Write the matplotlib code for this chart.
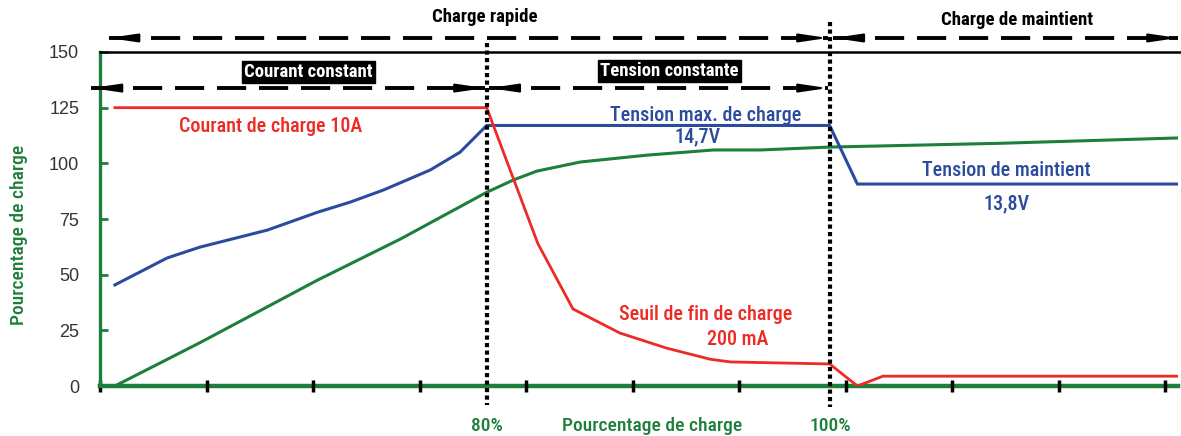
import matplotlib
matplotlib.use("Agg")
import matplotlib.pyplot as plt
import numpy as np

# ---------------- data (x in tick units, 0..10; y in chart units 0..150) ----------------
x_ticks = [0, 1, 2, 3, 4, 5, 6, 7, 8, 9, 10]
y_ticks = [0, 25, 50, 75, 100, 125, 150]

current_x = [0.14, 3.63, 4.11, 4.44, 4.88, 5.32, 5.73, 5.92, 6.85, 7.11, 7.35, 10.12]
current_y = [125, 125, 64, 34.6, 23.8, 17, 12, 10.8, 9.9, 0, 4.4, 4.4]

voltage_x = [0.14, 0.63, 0.94, 1.57, 2.04, 2.35, 2.66, 3.10, 3.38, 3.63, 6.85, 7.11, 10.12]
voltage_y = [45.4, 57.5, 62.4, 70, 78, 82.6, 88, 97, 105, 117, 117, 90.7, 90.7]

charge_x = [0.14, 0.94, 2.04, 2.82, 3.63, 3.88, 4.10, 4.51, 5.14, 5.76, 6.20, 6.85, 8.45, 10.12]
charge_y = [0, 19.5, 47.5, 66, 87, 92.5, 96.5, 100.6, 103.7, 106, 106, 107.3, 109, 111.4]

x80 = 3.634
x100 = 6.854
marker_labels = ["80%", "100%"]

RED = "#ee2a24"
BLUE = "#2b4c9e"
GREEN = "#1d7f3b"
NARROW = ["Roboto Condensed", "DejaVu Sans"]

fig = plt.figure(figsize=(11.81, 4.36), dpi=100)
ax = fig.add_axes([100 / 1181, 50 / 436, 1078 / 1181, 334 / 436])
ax.set_xlim(0, 10.12)
ax.set_ylim(0, 150)

for s in ["top", "right"]:
    ax.spines[s].set_visible(False)
ax.spines["left"].set_color(GREEN)
ax.spines["left"].set_linewidth(2.4)
ax.spines["bottom"].set_color(GREEN)
ax.spines["bottom"].set_linewidth(3.2)
ax.spines["bottom"].set_zorder(1)

ax.set_yticks(y_ticks)
ax.set_yticklabels([str(v) for v in y_ticks], fontsize=13, color="#333333",
                   family=["Liberation Sans", "DejaVu Sans"])
ax.tick_params(axis="y", direction="in", length=6, width=2, color=GREEN, pad=15)
ax.set_xticks(x_ticks)
ax.set_xticklabels([])
ax.tick_params(axis="x", direction="inout", length=9, width=2.5, color="black")

# top black frame line
ax.plot([0, 10.2], [150, 150], color="black", lw=1.8, clip_on=False, zorder=3)

# curves
ax.plot(charge_x, charge_y, color=GREEN, lw=2.2, zorder=4)
ax.plot(voltage_x, voltage_y, color=BLUE, lw=2.2, zorder=5)
ax.plot(current_x, current_y, color=RED, lw=2.0, zorder=6)

# vertical dotted lines
ax.plot([x80, x80], [154, -8.5], color="black", lw=3, ls=(0, (1, 0.8)), clip_on=False, zorder=7)
ax.plot([x100, x100], [163.5, -9.5], color="black", lw=3, ls=(0, (1, 0.8)), clip_on=False, zorder=7)


def dashed_arrow(x0, x1, y, left=True, right=True):
    ax.plot([x0, x1], [y, y], color="black", lw=2.8, dashes=(7.5, 3.3), clip_on=False, zorder=6)
    hl = 0.28
    style = "-|>,head_length=1.7,head_width=0.25"
    if left:
        ax.annotate("", xy=(x0, y), xytext=(x0 + hl, y), xycoords="data",
                    arrowprops=dict(arrowstyle=style, color="black", lw=1.5, shrinkA=0, shrinkB=0),
                    annotation_clip=False, zorder=8)
    if right:
        ax.annotate("", xy=(x1, y), xytext=(x1 - hl, y), xycoords="data",
                    arrowprops=dict(arrowstyle=style, color="black", lw=1.5, shrinkA=0, shrinkB=0),
                    annotation_clip=False, zorder=8)


dashed_arrow(0.08, x100 - 0.02, 156.3)
dashed_arrow(x100 + 0.03, 10.12, 156.3)
dashed_arrow(-0.08, x80 - 0.02, 133.8)
dashed_arrow(x80 + 0.02, x100 - 0.02, 133.8)

# headings
ax.text(3.61, 165.5, "Charge rapide", ha="center", va="center", fontsize=13.5,
        fontweight="bold", family=NARROW, color="black", clip_on=False)
ax.text(8.61, 164.5, "Charge de maintient", ha="center", va="center", fontsize=13.5,
        fontweight="bold", family=NARROW, color="black", clip_on=False)
box = dict(boxstyle="square,pad=0.12", fc="black", ec="black")
ax.text(1.953, 141, "Courant constant", ha="center", va="center", fontsize=13.5,
        fontweight="bold", family=NARROW, color="white", bbox=box, zorder=9)
ax.text(5.343, 141.4, "Tension constante", ha="center", va="center", fontsize=13.5,
        fontweight="bold", family=NARROW, color="white", bbox=box, zorder=9)

# annotations
LW = 500
FS = 14.5
ax.text(1.606, 116.7, "Courant de charge 10A", ha="center", va="center", fontsize=FS,
        fontweight=LW, family=NARROW, color=RED)
ax.text(5.69, 121.7, "Tension max. de charge", ha="center", va="center", fontsize=FS,
        fontweight=LW, family=NARROW, color=BLUE)
ax.text(5.605, 111.8, "14,7V", ha="center", va="center", fontsize=FS,
        fontweight=LW, family=NARROW, color=BLUE)
ax.text(8.51, 97, "Tension de maintient", ha="center", va="center", fontsize=FS,
        fontweight=LW, family=NARROW, color=BLUE)
ax.text(8.51, 81.7, "13,8V", ha="center", va="center", fontsize=FS,
        fontweight=LW, family=NARROW, color=BLUE)
ax.text(5.69, 32.3, "Seuil de fin de charge", ha="center", va="center", fontsize=FS,
        fontweight=LW, family=NARROW, color=RED)
ax.text(5.99, 21.1, "200 mA", ha="center", va="center", fontsize=FS,
        fontweight=LW, family=NARROW, color=RED)

# x labels
XL_Y = -18.0
ax.text(x80, XL_Y, marker_labels[0], ha="center", va="center", fontsize=14,
        fontweight=LW, family=NARROW, color=GREEN, clip_on=False)
ax.text(x100, XL_Y, marker_labels[1], ha="center", va="center", fontsize=14,
        fontweight=LW, family=NARROW, color=GREEN, clip_on=False)
ax.text(5.18, XL_Y, "Pourcentage de charge", ha="center", va="center", fontsize=14,
        fontweight=LW, family=NARROW, color=GREEN, clip_on=False)
fig.text(19 / 1181, 1 - 235 / 436, "Pourcentage de charge", rotation=90, ha="center",
         va="center", fontsize=14, fontweight=LW, family=NARROW, color=GREEN)

fig.savefig("out.png", dpi=100)
